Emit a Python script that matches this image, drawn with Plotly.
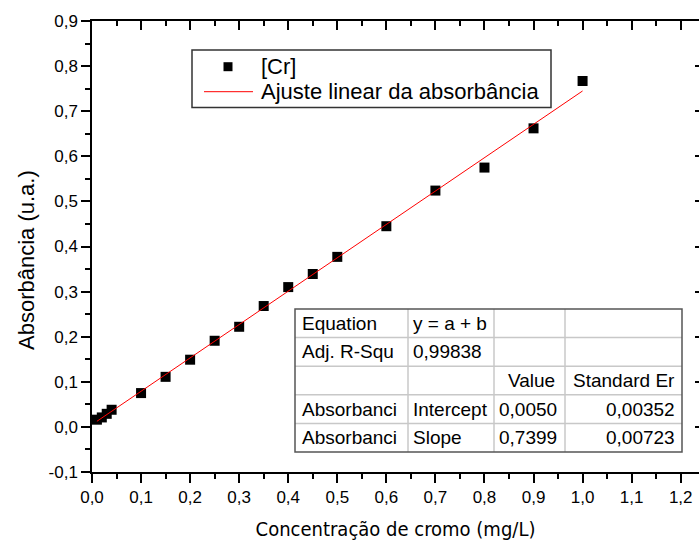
import plotly.graph_objects as go

# ---- data ----
conc = [0.01, 0.02, 0.03, 0.04, 0.10, 0.15, 0.20, 0.25, 0.30, 0.35, 0.40, 0.45,
        0.50, 0.60, 0.70, 0.80, 0.90, 1.00]
absb = [0.016, 0.021, 0.029, 0.038, 0.075, 0.111, 0.149, 0.191, 0.222, 0.268,
        0.310, 0.339, 0.377, 0.445, 0.524, 0.575, 0.662, 0.767]
intercept = 0.0050
slope = 0.7399

x_ticks = [0.0, 0.1, 0.2, 0.3, 0.4, 0.5, 0.6, 0.7, 0.8, 0.9, 1.0, 1.1, 1.2]
x_ticklabels = ["0,0", "0,1", "0,2", "0,3", "0,4", "0,5", "0,6", "0,7", "0,8",
                "0,9", "1,0", "1,1", "1,2"]
y_ticks = [-0.1, 0.0, 0.1, 0.2, 0.3, 0.4, 0.5, 0.6, 0.7, 0.8, 0.9]
y_ticklabels = ["-0,1", "0,0", "0,1", "0,2", "0,3", "0,4", "0,5", "0,6", "0,7",
                "0,8", "0,9"]

tab_col1 = ["Equation", "Adj. R-Squ", "", "Absorbanci", "Absorbanci"]
tab_col2 = ["y = a + b", "0,99838", "", "Intercept", "Slope"]
tab_col3 = ["", "", "Value", "0,0050", "0,7399"]
tab_col4 = ["", "", "Standard Er", "0,00352", "0,00723"]

series_name = "[Cr]"
fit_name = "Ajuste linear da absorbância"
x_title = "Concentração de cromo (mg/L)"
y_title = "Absorbância (u.a.)"

fit_x = [min(conc), max(conc)]
fit_y = [intercept + slope * v for v in fit_x]

# ---- layout geometry ----
W, H = 699, 545
ML, MR, MT, MB = 92, 0, 21, 73
XR = [0, 1.2373]
YR = [-0.1, 0.9]
FONT = "Liberation Sans, Arial, sans-serif"
pw = W - ML - MR
ph = H - MT - MB


def px(x):
    return (x - ML) / pw


def py(y):
    return 1 - (y - MT) / ph


fig = go.Figure()
fig.add_trace(go.Scatter(x=conc, y=absb, mode="markers", name=series_name,
                         marker=dict(symbol="square", size=10, color="black"),
                         showlegend=False))
fig.add_trace(go.Scatter(x=fit_x, y=fit_y, mode="lines", name=fit_name,
                         line=dict(color="red", width=1), showlegend=False))
# empty trace to activate mirrored top/right axes
fig.add_trace(go.Scatter(x=[], y=[], xaxis="x2", yaxis="y2", showlegend=False,
                         hoverinfo="skip"))

shapes = []
annotations = []

# ---- legend box (drawn) ----
lg_x0, lg_x1, lg_y0, lg_y1 = 192, 551, 50, 107.5
shapes.append(dict(type="rect", xref="paper", yref="paper", x0=px(lg_x0), x1=px(lg_x1),
                   y0=py(lg_y1), y1=py(lg_y0), line=dict(color="#333", width=1.5),
                   fillcolor="white", layer="above"))
row1, row2 = 66.7, 91.7
shapes.append(dict(type="rect", xref="paper", yref="paper", x0=px(223.5), x1=px(232.5),
                   y0=py(row1 + 4.5), y1=py(row1 - 4.5), line=dict(width=0),
                   fillcolor="black", layer="above"))
shapes.append(dict(type="line", xref="paper", yref="paper", x0=px(204), x1=px(253),
                   y0=py(row2), y1=py(row2), line=dict(color="red", width=1),
                   layer="above"))
for txt, yy in [(series_name, row1), (fit_name, row2)]:
    annotations.append(dict(text=txt, xref="paper", yref="paper", x=px(259), y=py(yy),
                            xanchor="left", yanchor="middle", showarrow=False,
                            font=dict(size=22, family=FONT, color="black")))

# ---- fit-result table (drawn) ----
col_edges = [295, 408, 494, 565, 682]
row_edges = [309, 337.6, 366.2, 394.8, 423.4, 452]
shapes.append(dict(type="rect", xref="paper", yref="paper", x0=px(col_edges[0]),
                   x1=px(col_edges[-1]), y0=py(row_edges[-1]), y1=py(row_edges[0]),
                   line=dict(width=0), fillcolor="white", layer="above"))
for cx in col_edges[1:-1]:
    shapes.append(dict(type="line", xref="paper", yref="paper", x0=px(cx), x1=px(cx),
                       y0=py(row_edges[-1]), y1=py(row_edges[0]),
                       line=dict(color="#c8c8c8", width=1.5), layer="above"))
for ry in row_edges[1:-1]:
    shapes.append(dict(type="line", xref="paper", yref="paper", x0=px(col_edges[0]),
                       x1=px(col_edges[-1]), y0=py(ry), y1=py(ry),
                       line=dict(color="#c8c8c8", width=1.5), layer="above"))
shapes.append(dict(type="rect", xref="paper", yref="paper", x0=px(col_edges[0]),
                   x1=px(col_edges[-1]), y0=py(row_edges[-1]), y1=py(row_edges[0]),
                   line=dict(color="#555", width=1.5), layer="above"))

cols = [tab_col1, tab_col2, tab_col3, tab_col4]
col_align = ["left", "left", "left", "right"]
pad = 5
for ci, col in enumerate(cols):
    for ri, txt in enumerate(col):
        if not txt:
            continue
        yc = (row_edges[ri] + row_edges[ri + 1]) / 2
        al = col_align[ci]
        if ci == 2 and ri == 2:
            al = "center"
        if al == "left":
            xx = col_edges[ci] + (3 if ci > 0 else pad)
        elif al == "right":
            xx = col_edges[ci + 1] - pad
        else:
            xx = (col_edges[ci] + col_edges[ci + 1]) / 2 + 2
        annotations.append(dict(text=txt, xref="paper", yref="paper", x=px(xx), y=py(yc),
                                xanchor=al, yanchor="middle", showarrow=False,
                                font=dict(size=19, family=FONT, color="black")))

# ---- y axis title (placed like the reference, slightly below centre) ----
annotations.append(dict(text=y_title, xref="paper", yref="paper", x=px(26), y=py(260),
                        xanchor="center", yanchor="middle", textangle=-90,
                        showarrow=False, font=dict(size=22, family=FONT, color="black")))

axis_common = dict(showgrid=False, zeroline=False, linecolor="black", linewidth=1.5,
                   tickcolor="black", tickwidth=1.5)

fig.update_layout(
    width=W, height=H,
    margin=dict(l=ML, r=MR, t=MT, b=MB),
    paper_bgcolor="white", plot_bgcolor="white",
    font=dict(family=FONT, color="black"),
    xaxis=dict(range=XR, tickvals=x_ticks, ticktext=x_ticklabels, showline=True,
               ticks="outside", ticklen=9,
               minor=dict(ticks="outside", ticklen=5, dtick=0.05, tick0=0,
                          tickcolor="black", tickwidth=1.5),
               tickfont=dict(size=17, family=FONT),
               title=dict(text=x_title, standoff=16,
                          font=dict(size=20, family="DejaVu Sans Condensed, DejaVu Sans")),
               **axis_common),
    yaxis=dict(range=YR, tickvals=y_ticks, ticktext=y_ticklabels, showline=True,
               ticks="outside", ticklen=9,
               minor=dict(ticks="outside", ticklen=5, dtick=0.05, tick0=0,
                          tickcolor="black", tickwidth=1.5),
               tickfont=dict(size=17, family=FONT),
               **axis_common),
    xaxis2=dict(range=XR, overlaying="x", side="top", anchor="y2", tick0=0, dtick=0.1,
                showline=True, ticks="inside", ticklen=9, showticklabels=False,
                minor=dict(ticks="inside", ticklen=5, dtick=0.05, tick0=0,
                           tickcolor="black", tickwidth=1.5),
                **axis_common),
    yaxis2=dict(range=YR, overlaying="y", side="right", anchor="x2", tick0=0, dtick=0.1,
                showline=False, ticks="inside", ticklen=4, showticklabels=False,
                showgrid=False, zeroline=False, tickcolor="black", tickwidth=1.5),
    shapes=shapes,
    annotations=annotations,
    showlegend=False,
)

fig.write_html("out.html")
